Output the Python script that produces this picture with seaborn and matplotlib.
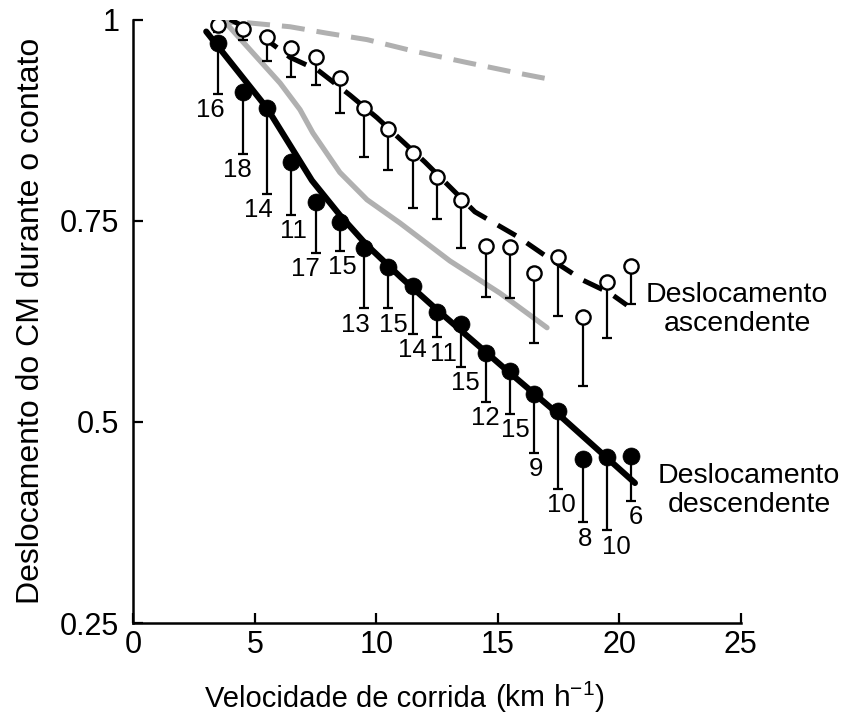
import numpy as np
import pandas as pd
import matplotlib
matplotlib.use("Agg")
import matplotlib.pyplot as plt
import seaborn as sns

# Running speed bins (km/h)
speed = [3.5, 4.5, 5.5, 6.5, 7.5, 8.5, 9.5, 10.5, 11.5, 12.5,
         13.5, 14.5, 15.5, 16.5, 17.5, 18.5, 19.5, 20.5]

# Upward displacement of the CM (open circles): mean and lower end of SD bar
up_mean = [0.993, 0.988, 0.978, 0.965, 0.953, 0.927, 0.890, 0.864, 0.834, 0.804,
           0.776, 0.718, 0.717, 0.685, 0.705, 0.630, 0.674, 0.694]
up_low = [0.985, 0.975, 0.949, 0.929, 0.919, 0.884, 0.829, 0.813, 0.766, 0.752,
          0.716, 0.655, 0.654, 0.598, 0.632, 0.545, 0.604, 0.647]

# Downward displacement of the CM (filled circles): mean, lower end, subjects
down_mean = [0.971, 0.910, 0.890, 0.823, 0.773, 0.748, 0.716, 0.692, 0.669, 0.636,
             0.622, 0.585, 0.563, 0.535, 0.514, 0.454, 0.456, 0.458]
down_low = [0.908, 0.833, 0.783, 0.757, 0.710, 0.712, 0.641, 0.641, 0.609, 0.605,
            0.568, 0.525, 0.510, 0.461, 0.417, 0.375, 0.365, 0.402]
down_n = [16, 18, 14, 11, 17, 15, 13, 15, 14, 11, 15, 12, 15, 9, 10, 8, 10, 6]

# Fitted curves
up_fit_x = [3.98, 5.21, 6.45, 7.6, 8.92, 10.03, 12.0, 14.06, 15.83, 17.03, 18.51, 19.62, 20.32]
up_fit_y = [1.0, 0.981, 0.953, 0.937, 0.906, 0.878, 0.823, 0.761, 0.730, 0.705, 0.676, 0.660, 0.645]
down_fit_x = [3.0, 5.5, 7.35, 8.5, 9.6, 11.0, 12.4, 15.3, 17.4, 20.65]
down_fit_y = [0.985, 0.890, 0.800, 0.757, 0.720, 0.680, 0.642, 0.566, 0.512, 0.424]

# Model predictions (grey)
model_up_x = [3.24, 4.68, 6.45, 7.97, 9.62, 11.5, 13.66, 15.9, 17.1]
model_up_y = [0.997, 0.996, 0.991, 0.983, 0.975, 0.961, 0.947, 0.933, 0.926]
model_down_x = [3.89, 6.04, 6.86, 7.39, 8.5, 9.62, 10.98, 13.03, 15.09, 17.03]
model_down_y = [0.993, 0.921, 0.888, 0.859, 0.810, 0.776, 0.747, 0.700, 0.660, 0.617]

xticks = [0, 5, 10, 15, 20, 25]
yticks = [0.25, 0.5, 0.75, 1.0]
ytick_labels = ["0.25", "0.5", "0.75", "1"]

# horizontal nudges (points) for the subject-count labels
label_dx = [-6, -4, -6, 1.5, -7, 1.5, -6, 3.5, 0, 5, 3, 0, 4, 1.5, 2, 1.5, 6.5, 3]

sns.set_theme(style="ticks")
plt.rcParams["font.family"] = ["Liberation Sans", "DejaVu Sans"]
plt.rcParams["mathtext.default"] = "regular"
plt.rcParams["text.color"] = "black"
plt.rcParams["axes.labelcolor"] = "black"

fig = plt.figure(figsize=(8.5, 7.17), dpi=100)
ax = fig.add_axes([0.1569, 0.1311, 0.7144, 0.8417])

grey = "#b0b0b0"
sns.lineplot(x=model_up_x, y=model_up_y, ax=ax, color=grey, lw=3.6,
             linestyle=(0, (4.6, 2.4)), sort=False, estimator=None, zorder=2)
sns.lineplot(x=model_down_x, y=model_down_y, ax=ax, color=grey, lw=3.8,
             sort=False, estimator=None, zorder=2)
sns.lineplot(x=up_fit_x, y=up_fit_y, ax=ax, color="black", lw=3.6,
             linestyle=(0, (4.2, 2.6)), sort=False, estimator=None, zorder=3)
sns.lineplot(x=down_fit_x, y=down_fit_y, ax=ax, color="black", lw=4.4,
             sort=False, estimator=None, zorder=3)

up_mean_a = np.array(up_mean)
down_mean_a = np.array(down_mean)
zeros = np.zeros(len(speed))
ax.errorbar(speed, up_mean_a, yerr=[up_mean_a - np.array(up_low), zeros],
            fmt="none", ecolor="black", elinewidth=1.6, capsize=3.3,
            capthick=1.6, zorder=3)
ax.errorbar(speed, down_mean_a, yerr=[down_mean_a - np.array(down_low), zeros],
            fmt="none", ecolor="black", elinewidth=1.6, capsize=3.3,
            capthick=1.6, zorder=3)

sns.scatterplot(x=speed, y=up_mean, ax=ax, s=105, color="white",
                edgecolor="black", linewidth=1.7, zorder=5)
sns.scatterplot(x=speed, y=down_mean, ax=ax, s=150, color="black",
                edgecolor="black", linewidth=0.5, zorder=5)

for x, lo, n, dx in zip(speed, down_low, down_n, label_dx):
    ax.annotate(str(n), xy=(x, lo), xytext=(dx, -3), textcoords="offset points",
                ha="center", va="top", fontsize=18.5, color="black")

ax.text(24.85, 0.639, "Deslocamento\nascendente", ha="center", va="center",
        fontsize=20.5, linespacing=1.15, clip_on=False)
ax.text(25.35, 0.415, "Deslocamento\ndescendente", ha="center", va="center",
        fontsize=20.5, linespacing=1.15, clip_on=False)

ax.set_xlim(0, 25)
ax.set_ylim(0.25, 1.0)
ax.set_xticks(xticks)
ax.set_yticks(yticks)
ax.set_yticklabels(ytick_labels)
ax.tick_params(direction="in", length=7, width=1.6, labelsize=22, colors="black")
ax.tick_params(axis="y", pad=10)
ax.tick_params(axis="x", pad=5)
for side in ("left", "bottom"):
    ax.spines[side].set_linewidth(1.8)
    ax.spines[side].set_color("black")
sns.despine(ax=ax)

ax.set_ylabel("Deslocamento do CM durante o contato", fontsize=23, labelpad=10)
xl = ax.set_xlabel("Velocidade de corrida", fontsize=21, labelpad=18, x=0.35)
ax.annotate(r"(km h$^{-1}$)", xy=(1, 0), xycoords=xl, xytext=(6, -1.5),
            textcoords="offset points", ha="left", va="bottom", fontsize=21.5)

fig.savefig("out.png", dpi=100, facecolor="white")
